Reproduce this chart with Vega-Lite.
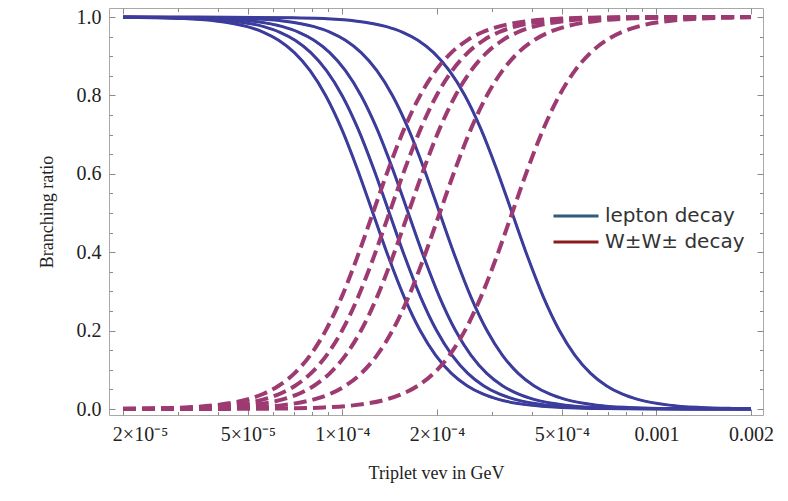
{
  "$schema": "https://vega.github.io/schema/vega-lite/v6.json",
  "width": 654,
  "height": 407,
  "autosize": {"type": "none"},
  "padding": {"left": 109, "top": 8, "right": 25, "bottom": 86},
  "background": "white",
  "config": {
    "view": {"stroke": "#a8a8a8", "strokeWidth": 1},
    "axis": {"domain": false, "grid": false, "tickColor": "#8a8a8a", "tickWidth": 1, "labelFont": "Liberation Serif", "labelFontSize": 20, "labelColor": "#222", "titleFont": "Liberation Serif", "titleFontSize": 18, "titleFontWeight": "normal", "titleColor": "#222"},
    "legend": {"orient": "none", "legendX": 457, "legendY": 198, "symbolType": "M-5,0H5", "symbolSize": 81, "symbolStrokeWidth": 3, "labelFont": "DejaVu Sans", "labelFontSize": 20, "labelColor": "#333", "labelOffset": 19, "rowPadding": 6, "padding": 0}
  },
  "data": {"values": [
    {"k":1,"v":2e-5,"lep":0.99934,"ww":0.00066},
    {"k":1,"v":2.494e-5,"lep":0.99842,"ww":0.00158},
    {"k":1,"v":3.14e-5,"lep":0.99603,"ww":0.00397},
    {"k":1,"v":3.953e-5,"lep":0.9901,"ww":0.0099},
    {"k":1,"v":4.976e-5,"lep":0.9755,"ww":0.0245},
    {"k":1,"v":5.584e-5,"lep":0.9617,"ww":0.0383},
    {"k":1,"v":6.265e-5,"lep":0.9406,"ww":0.0594},
    {"k":1,"v":7.029e-5,"lep":0.9091,"ww":0.0909},
    {"k":1,"v":7.887e-5,"lep":0.8632,"ww":0.1368},
    {"k":1,"v":8.849e-5,"lep":0.7993,"ww":0.2007},
    {"k":1,"v":9.929e-5,"lep":0.7153,"ww":0.2847},
    {"k":1,"v":1.1141e-4,"lep":0.6131,"ww":0.3869},
    {"k":1,"v":1.25e-4,"lep":0.5,"ww":0.5},
    {"k":1,"v":1.4025e-4,"lep":0.3869,"ww":0.6131},
    {"k":1,"v":1.5737e-4,"lep":0.2847,"ww":0.7153},
    {"k":1,"v":1.7657e-4,"lep":0.2007,"ww":0.7993},
    {"k":1,"v":1.9811e-4,"lep":0.1368,"ww":0.8632},
    {"k":1,"v":2.2229e-4,"lep":0.0909,"ww":0.9091},
    {"k":1,"v":2.4941e-4,"lep":0.0594,"ww":0.9406},
    {"k":1,"v":2.7984e-4,"lep":0.0383,"ww":0.9617},
    {"k":1,"v":3.1399e-4,"lep":0.0245,"ww":0.9755},
    {"k":1,"v":3.9529e-4,"lep":0.0099,"ww":0.9901},
    {"k":1,"v":4.9763e-4,"lep":0.00397,"ww":0.99603},
    {"k":1,"v":6.2648e-4,"lep":0.00158,"ww":0.99842},
    {"k":1,"v":1.25e-3,"lep":0.0001,"ww":0.9999},
    {"k":1,"v":2e-3,"lep":0.0,"ww":1.0},

    {"k":2,"v":2e-5,"lep":0.9996,"ww":0.0004},
    {"k":2,"v":2.813e-5,"lep":0.99842,"ww":0.00158},
    {"k":2,"v":3.542e-5,"lep":0.99603,"ww":0.00397},
    {"k":2,"v":4.459e-5,"lep":0.9901,"ww":0.0099},
    {"k":2,"v":5.613e-5,"lep":0.9755,"ww":0.0245},
    {"k":2,"v":6.298e-5,"lep":0.9617,"ww":0.0383},
    {"k":2,"v":7.067e-5,"lep":0.9406,"ww":0.0594},
    {"k":2,"v":7.929e-5,"lep":0.9091,"ww":0.0909},
    {"k":2,"v":8.897e-5,"lep":0.8632,"ww":0.1368},
    {"k":2,"v":9.982e-5,"lep":0.7993,"ww":0.2007},
    {"k":2,"v":1.12e-4,"lep":0.7153,"ww":0.2847},
    {"k":2,"v":1.2567e-4,"lep":0.6131,"ww":0.3869},
    {"k":2,"v":1.41e-4,"lep":0.5,"ww":0.5},
    {"k":2,"v":1.582e-4,"lep":0.3869,"ww":0.6131},
    {"k":2,"v":1.7751e-4,"lep":0.2847,"ww":0.7153},
    {"k":2,"v":1.9917e-4,"lep":0.2007,"ww":0.7993},
    {"k":2,"v":2.2347e-4,"lep":0.1368,"ww":0.8632},
    {"k":2,"v":2.5074e-4,"lep":0.0909,"ww":0.9091},
    {"k":2,"v":2.8133e-4,"lep":0.0594,"ww":0.9406},
    {"k":2,"v":3.1566e-4,"lep":0.0383,"ww":0.9617},
    {"k":2,"v":3.5418e-4,"lep":0.0245,"ww":0.9755},
    {"k":2,"v":4.4588e-4,"lep":0.0099,"ww":0.9901},
    {"k":2,"v":5.6133e-4,"lep":0.00397,"ww":0.99603},
    {"k":2,"v":7.0667e-4,"lep":0.00158,"ww":0.99842},
    {"k":2,"v":1.41e-3,"lep":0.0001,"ww":0.9999},
    {"k":2,"v":2e-3,"lep":0.0,"ww":1.0},

    {"k":3,"v":2e-5,"lep":0.9998,"ww":0.0002},
    {"k":3,"v":3.232e-5,"lep":0.99842,"ww":0.00158},
    {"k":3,"v":4.069e-5,"lep":0.99603,"ww":0.00397},
    {"k":3,"v":5.123e-5,"lep":0.9901,"ww":0.0099},
    {"k":3,"v":6.449e-5,"lep":0.9755,"ww":0.0245},
    {"k":3,"v":7.236e-5,"lep":0.9617,"ww":0.0383},
    {"k":3,"v":8.119e-5,"lep":0.9406,"ww":0.0594},
    {"k":3,"v":9.11e-5,"lep":0.9091,"ww":0.0909},
    {"k":3,"v":1.0222e-4,"lep":0.8632,"ww":0.1368},
    {"k":3,"v":1.1469e-4,"lep":0.7993,"ww":0.2007},
    {"k":3,"v":1.2868e-4,"lep":0.7153,"ww":0.2847},
    {"k":3,"v":1.4438e-4,"lep":0.6131,"ww":0.3869},
    {"k":3,"v":1.62e-4,"lep":0.5,"ww":0.5},
    {"k":3,"v":1.8177e-4,"lep":0.3869,"ww":0.6131},
    {"k":3,"v":2.0395e-4,"lep":0.2847,"ww":0.7153},
    {"k":3,"v":2.2883e-4,"lep":0.2007,"ww":0.7993},
    {"k":3,"v":2.5675e-4,"lep":0.1368,"ww":0.8632},
    {"k":3,"v":2.8808e-4,"lep":0.0909,"ww":0.9091},
    {"k":3,"v":3.2323e-4,"lep":0.0594,"ww":0.9406},
    {"k":3,"v":3.6267e-4,"lep":0.0383,"ww":0.9617},
    {"k":3,"v":4.0693e-4,"lep":0.0245,"ww":0.9755},
    {"k":3,"v":5.1229e-4,"lep":0.0099,"ww":0.9901},
    {"k":3,"v":6.4493e-4,"lep":0.00397,"ww":0.99603},
    {"k":3,"v":8.1192e-4,"lep":0.00158,"ww":0.99842},
    {"k":3,"v":1.62e-3,"lep":0.0001,"ww":0.9999},
    {"k":3,"v":2e-3,"lep":0.00004,"ww":0.99996},

    {"k":4,"v":2e-5,"lep":0.9999,"ww":0.0001},
    {"k":4,"v":4.07e-5,"lep":0.99842,"ww":0.00158},
    {"k":4,"v":5.124e-5,"lep":0.99603,"ww":0.00397},
    {"k":4,"v":6.451e-5,"lep":0.9901,"ww":0.0099},
    {"k":4,"v":8.121e-5,"lep":0.9755,"ww":0.0245},
    {"k":4,"v":9.112e-5,"lep":0.9617,"ww":0.0383},
    {"k":4,"v":1.0224e-4,"lep":0.9406,"ww":0.0594},
    {"k":4,"v":1.1472e-4,"lep":0.9091,"ww":0.0909},
    {"k":4,"v":1.2872e-4,"lep":0.8632,"ww":0.1368},
    {"k":4,"v":1.4442e-4,"lep":0.7993,"ww":0.2007},
    {"k":4,"v":1.6204e-4,"lep":0.7153,"ww":0.2847},
    {"k":4,"v":1.8182e-4,"lep":0.6131,"ww":0.3869},
    {"k":4,"v":2.04e-4,"lep":0.5,"ww":0.5},
    {"k":4,"v":2.2889e-4,"lep":0.3869,"ww":0.6131},
    {"k":4,"v":2.5682e-4,"lep":0.2847,"ww":0.7153},
    {"k":4,"v":2.8816e-4,"lep":0.2007,"ww":0.7993},
    {"k":4,"v":3.2332e-4,"lep":0.1368,"ww":0.8632},
    {"k":4,"v":3.6277e-4,"lep":0.0909,"ww":0.9091},
    {"k":4,"v":4.0703e-4,"lep":0.0594,"ww":0.9406},
    {"k":4,"v":4.567e-4,"lep":0.0383,"ww":0.9617},
    {"k":4,"v":5.1243e-4,"lep":0.0245,"ww":0.9755},
    {"k":4,"v":6.4511e-4,"lep":0.0099,"ww":0.9901},
    {"k":4,"v":8.1214e-4,"lep":0.00397,"ww":0.99603},
    {"k":4,"v":1.02242e-3,"lep":0.00158,"ww":0.99842},
    {"k":4,"v":2e-3,"lep":0.0001,"ww":0.9999},

    {"k":5,"v":2e-5,"lep":1.0,"ww":0.0},
    {"k":5,"v":3.47e-5,"lep":0.9999,"ww":0.0001},
    {"k":5,"v":6.924e-5,"lep":0.99842,"ww":0.00158},
    {"k":5,"v":8.716e-5,"lep":0.99603,"ww":0.00397},
    {"k":5,"v":1.0973e-4,"lep":0.9901,"ww":0.0099},
    {"k":5,"v":1.3814e-4,"lep":0.9755,"ww":0.0245},
    {"k":5,"v":1.55e-4,"lep":0.9617,"ww":0.0383},
    {"k":5,"v":1.7391e-4,"lep":0.9406,"ww":0.0594},
    {"k":5,"v":1.9513e-4,"lep":0.9091,"ww":0.0909},
    {"k":5,"v":2.1894e-4,"lep":0.8632,"ww":0.1368},
    {"k":5,"v":2.4566e-4,"lep":0.7993,"ww":0.2007},
    {"k":5,"v":2.7563e-4,"lep":0.7153,"ww":0.2847},
    {"k":5,"v":3.0926e-4,"lep":0.6131,"ww":0.3869},
    {"k":5,"v":3.47e-4,"lep":0.5,"ww":0.5},
    {"k":5,"v":3.8934e-4,"lep":0.3869,"ww":0.6131},
    {"k":5,"v":4.3685e-4,"lep":0.2847,"ww":0.7153},
    {"k":5,"v":4.9015e-4,"lep":0.2007,"ww":0.7993},
    {"k":5,"v":5.4996e-4,"lep":0.1368,"ww":0.8632},
    {"k":5,"v":6.1706e-4,"lep":0.0909,"ww":0.9091},
    {"k":5,"v":6.9236e-4,"lep":0.0594,"ww":0.9406},
    {"k":5,"v":7.7684e-4,"lep":0.0383,"ww":0.9617},
    {"k":5,"v":8.7163e-4,"lep":0.0245,"ww":0.9755},
    {"k":5,"v":1.09731e-3,"lep":0.0099,"ww":0.9901},
    {"k":5,"v":1.38143e-3,"lep":0.00397,"ww":0.99603},
    {"k":5,"v":1.73912e-3,"lep":0.00158,"ww":0.99842},
    {"k":5,"v":2e-3,"lep":0.0009,"ww":0.9991}
  ]},
  "transform": [{"fold": ["lep", "ww"], "as": ["decay", "br"]}],
  "resolve": {"axis": {"x": "independent", "y": "independent"}},
  "layer": [
    {
      "transform": [{"filter": "datum.decay === 'lep'"}],
      "mark": {"type": "line", "clip": true, "interpolate": "monotone", "strokeWidth": 2},
      "encoding": {
        "x": {"field": "v", "type": "quantitative", "scale": {"type": "log", "domain": [1.805e-5, 2.184e-3], "nice": false},
          "axis": {"orient": "bottom", "values": [2e-5, 5e-5, 1e-4, 2e-4, 5e-4, 1e-3, 2e-3], "labels": false, "tickSize": -6, "title": null}},
        "y": {"field": "br", "type": "quantitative", "scale": {"domain": [-0.0153, 1.023], "nice": false, "zero": false},
          "axis": {"orient": "left", "values": [0, 0.2, 0.4, 0.6, 0.8, 1.0], "labels": false, "tickSize": -6, "title": null}},
        "color": {"field": "decay", "type": "nominal", "scale": {"domain": ["lep", "ww"], "range": ["#2f5a7c", "#8c1c1c"]},
          "legend": {"title": null, "labelExpr": "datum.value === 'lep' ? 'lepton decay' : 'W±W± decay'"}},
        "detail": {"field": "k", "type": "nominal"}
      }
    },
    {
      "transform": [{"filter": "datum.decay === 'lep'"}],
      "mark": {"type": "line", "clip": true, "interpolate": "monotone", "strokeWidth": 3, "stroke": "#3c3c9c"},
      "encoding": {
        "x": {"field": "v", "type": "quantitative",
          "axis": {"orient": "bottom", "values": [2e-5, 5e-5, 1e-4, 2e-4, 5e-4, 1e-3, 2e-3], "ticks": false, "labelPadding": 9, "labelFlush": false, "labelOverlap": false, "labelFontSize": 20,
            "labelExpr": "datum.value < 3e-5 ? '2×10⁻⁵' : datum.value < 7e-5 ? '5×10⁻⁵' : datum.value < 1.5e-4 ? '1×10⁻⁴' : datum.value < 3e-4 ? '2×10⁻⁴' : datum.value < 7e-4 ? '5×10⁻⁴' : datum.value < 1.5e-3 ? '0.001' : '0.002'",
            "labelOffset": {"condition": {"test": "datum.value < 3e-5", "value": 17}, "value": 0},
            "title": "Triplet vev in GeV", "titlePadding": 20}},
        "y": {"field": "br", "type": "quantitative",
          "axis": {"orient": "left", "values": [0, 0.2, 0.4, 0.6, 0.8, 1.0], "format": ".1f", "ticks": false, "labelPadding": 8, "labelFontSize": 20, "title": "Branching ratio", "titlePadding": 20}},
        "detail": {"field": "k", "type": "nominal"}
      }
    },
    {
      "transform": [{"filter": "datum.decay === 'ww'"}],
      "mark": {"type": "line", "clip": true, "interpolate": "monotone", "strokeWidth": 4, "strokeDash": [13, 6], "stroke": "#9d3a72"},
      "encoding": {
        "x": {"field": "v", "type": "quantitative", "axis": {"orient": "top", "values": [2e-5, 5e-5, 1e-4, 2e-4, 5e-4, 1e-3, 2e-3], "labels": false, "tickSize": -6, "title": null}},
        "y": {"field": "br", "type": "quantitative", "axis": {"orient": "right", "values": [0, 0.2, 0.4, 0.6, 0.8, 1.0], "labels": false, "tickSize": -6, "title": null}},
        "detail": {"field": "k", "type": "nominal"}
      }
    },
    {
      "mark": {"type": "point", "opacity": 0},
      "encoding": {
        "x": {"field": "v", "type": "quantitative", "axis": {"orient": "bottom", "values": [3e-5, 4e-5, 6e-5, 7e-5, 8e-5, 9e-5, 3e-4, 4e-4, 6e-4, 7e-4, 8e-4, 9e-4], "labels": false, "tickSize": -3.5, "title": null}},
        "y": {"field": "br", "type": "quantitative", "axis": {"orient": "left", "values": [0.05, 0.1, 0.15, 0.25, 0.3, 0.35, 0.45, 0.5, 0.55, 0.65, 0.7, 0.75, 0.85, 0.9, 0.95], "labels": false, "tickSize": -3.5, "title": null}}
      }
    },
    {
      "mark": {"type": "point", "opacity": 0},
      "encoding": {
        "x": {"field": "v", "type": "quantitative", "axis": {"orient": "top", "values": [3e-5, 4e-5, 6e-5, 7e-5, 8e-5, 9e-5, 3e-4, 4e-4, 6e-4, 7e-4, 8e-4, 9e-4], "labels": false, "tickSize": -3.5, "title": null}},
        "y": {"field": "br", "type": "quantitative", "axis": {"orient": "right", "values": [0.05, 0.1, 0.15, 0.25, 0.3, 0.35, 0.45, 0.5, 0.55, 0.65, 0.7, 0.75, 0.85, 0.9, 0.95], "labels": false, "tickSize": -3.5, "title": null}}
      }
    }
  ]
}
